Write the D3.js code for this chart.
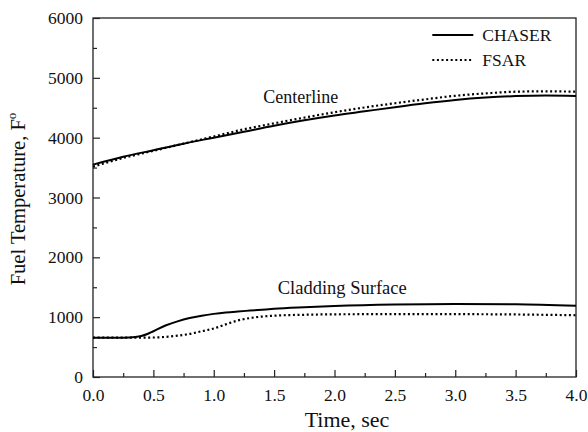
<!DOCTYPE html>
<html>
<head>
<meta charset="utf-8">
<script src="https://cdn.jsdelivr.net/npm/d3@7"></script>
<style>
  body { margin: 0; background: #fff; }
  text { font-family: "Liberation Serif", "Times New Roman", serif; fill: #111; }
</style>
</head>
<body>
<div id="chart"></div>
<script>
const ancho = 588;
const alto = 432;
const margen = { superior: 18, inferior: 55, izquierdo: 93, derecho: 12 };

// datos
const tiempoCentro = [0, 0.25, 0.5, 0.75, 1.0, 1.25, 1.5, 1.75, 2.0, 2.25, 2.5, 2.75, 3.0, 3.25, 3.5, 3.75, 4.0];
const centroChaser = [3550, 3680, 3790, 3900, 4000, 4100, 4200, 4290, 4370, 4440, 4510, 4575, 4630, 4670, 4695, 4705, 4697];
const centroFsar = [3515, 3660, 3780, 3900, 4020, 4140, 4240, 4335, 4425, 4505, 4575, 4640, 4700, 4740, 4768, 4775, 4768];

const tiempoVaina = [0, 0.2, 0.3, 0.35, 0.4, 0.45, 0.5, 0.6, 0.7, 0.8, 0.9, 1.0, 1.1, 1.2, 1.3, 1.4, 1.5, 1.75, 2.0, 2.5, 3.0, 3.5, 4.0];
const vainaChaser = [657, 657, 660, 667, 685, 718, 765, 860, 930, 985, 1025, 1055, 1078, 1095, 1110, 1125, 1140, 1165, 1185, 1210, 1220, 1215, 1190];
const vainaFsar = [657, 657, 657, 657, 658, 659, 660, 670, 690, 720, 765, 810, 880, 945, 985, 1010, 1025, 1040, 1048, 1050, 1050, 1045, 1032];

const ticksX = [0, 0.5, 1.0, 1.5, 2.0, 2.5, 3.0, 3.5, 4.0];
const ticksY = [0, 1000, 2000, 3000, 4000, 5000, 6000];
const series = ["CHASER", "FSAR"];

const anchoPlot = ancho - margen.izquierdo - margen.derecho;
const altoPlot = alto - margen.superior - margen.inferior;

const svg = d3.select("#chart").append("svg")
  .attr("width", ancho)
  .attr("height", alto);

const g = svg.append("g")
  .attr("transform", `translate(${margen.izquierdo}, ${margen.superior})`);

const x = d3.scaleLinear().domain([0, 4]).range([0, anchoPlot]);
const y = d3.scaleLinear().domain([0, 6000]).range([altoPlot, 0]);

// ticks menores
const menoresX = d3.range(0, 4.01, 0.25).filter((d) => !ticksX.includes(d));
const menoresY = d3.range(0, 6001, 500).filter((d) => !ticksY.includes(d));

const ejeX = d3.axisBottom(x).tickValues(ticksX).tickFormat(d3.format(".1f"))
  .tickSizeInner(-7).tickSizeOuter(0).tickPadding(12);
const ejeY = d3.axisLeft(y).tickValues(ticksY).tickFormat(d3.format("d"))
  .tickSizeInner(-7).tickSizeOuter(0).tickPadding(10);

const grupoX = g.append("g").attr("transform", `translate(0, ${altoPlot})`).call(ejeX);
const grupoY = g.append("g").call(ejeY);

g.append("g").attr("transform", `translate(0, ${altoPlot})`)
  .call(d3.axisBottom(x).tickValues(menoresX).tickSizeInner(-4).tickSizeOuter(0).tickFormat(""));
g.append("g")
  .call(d3.axisLeft(y).tickValues(menoresY).tickSizeInner(-4).tickSizeOuter(0).tickFormat(""));

g.selectAll(".domain").remove();
g.selectAll(".tick line").attr("stroke", "#222").attr("stroke-width", 1.2);
[grupoX, grupoY].forEach((eje) => eje.attr("font-family", '"Liberation Serif", serif').attr("font-size", 17.5));
g.selectAll(".tick text").attr("fill", "#111");

// marco
g.append("rect")
  .attr("width", anchoPlot)
  .attr("height", altoPlot)
  .attr("fill", "none")
  .attr("stroke", "#222")
  .attr("stroke-width", 1.3);

const linea = d3.line().curve(d3.curveMonotoneX)
  .x((d) => x(d[0]))
  .y((d) => y(d[1]));

const estilo = {
  CHASER: { dash: null, width: 2 },
  FSAR: { dash: "2 2.6", width: 2.2 },
};

function dibujar(tiempos, valores, nombre) {
  g.append("path")
    .datum(tiempos.map((t, i) => [t, valores[i]]))
    .attr("fill", "none")
    .attr("stroke", "#000")
    .attr("stroke-width", estilo[nombre].width)
    .attr("stroke-dasharray", estilo[nombre].dash)
    .attr("d", linea);
}

dibujar(tiempoCentro, centroChaser, "CHASER");
dibujar(tiempoCentro, centroFsar, "FSAR");
dibujar(tiempoVaina, vainaChaser, "CHASER");
dibujar(tiempoVaina, vainaFsar, "FSAR");

// etiquetas de curvas
g.append("text").attr("x", x(1.41)).attr("y", y(4575)).attr("font-size", 18).text("Centerline");
g.append("text").attr("x", x(1.53)).attr("y", y(1395)).attr("font-size", 18.5).text("Cladding Surface");

// leyenda
const leyenda = g.append("g").attr("transform", `translate(${x(2.81)}, 0)`);
series.forEach((s, i) => {
  const yy = 17 + i * 25;
  leyenda.append("line")
    .attr("x1", 0).attr("x2", 41)
    .attr("y1", yy).attr("y2", yy)
    .attr("stroke", "#000")
    .attr("stroke-width", estilo[s].width)
    .attr("stroke-dasharray", estilo[s].dash);
  leyenda.append("text")
    .attr("x", 50).attr("y", yy + 6)
    .attr("font-size", 17.5)
    .text(s);
});

// titulos de ejes
svg.append("text")
  .attr("x", 347)
  .attr("y", 427)
  .attr("text-anchor", "middle")
  .attr("font-size", 22)
  .text("Time, sec");

const tituloY = svg.append("text")
  .attr("transform", `translate(25, 199) rotate(-90)`)
  .attr("text-anchor", "middle")
  .attr("font-size", 20.5);
tituloY.append("tspan").text("Fuel Temperature, F");
tituloY.append("tspan").attr("dy", -9).attr("font-size", 13).text("o");
</script>
</body>
</html>
